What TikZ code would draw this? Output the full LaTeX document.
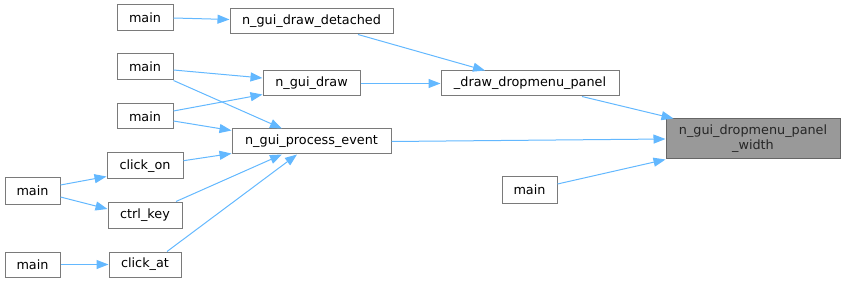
\documentclass[tikz,border=0pt]{standalone}
\usepackage{fontspec}
\setmainfont{DejaVu Sans}
\usetikzlibrary{arrows.meta}
\definecolor{edgeblue}{HTML}{63B8FF}
\definecolor{nodeborder}{HTML}{7A7A7A}
\definecolor{hlfill}{HTML}{999999}
\definecolor{hlborder}{HTML}{666666}
\tikzset{
  fn/.style={draw=nodeborder, fill=white, line width=1pt, inner sep=0pt, font=\fontsize{12.8}{15}\selectfont, text=black},
  hl/.style={draw=hlborder, fill=hlfill, line width=1pt, inner sep=0pt, font=\fontsize{12.8}{15}\selectfont, align=center, text=black!85},
  call/.style={draw=edgeblue, line width=1pt, -{Triangle[length=12pt,width=9pt]}}
}
\begin{document}
\begin{tikzpicture}[x=1pt,y=-1pt]
\useasboundingbox (0,0) rectangle (845,283);
% nodes
\node[fn, minimum width=56pt, minimum height=26pt] (m1) at (145,18) {main};
\node[fn, minimum width=163pt, minimum height=25pt] (detached) at (311.5,21.5) {n\_gui\_draw\_detached};
\node[fn, minimum width=56pt, minimum height=26pt] (m2) at (145,67) {main};
\node[fn, minimum width=97pt, minimum height=25pt] (draw) at (311.5,83.5) {n\_gui\_draw};
\node[fn, minimum width=56pt, minimum height=25pt] (m3) at (145,116.5) {main};
\node[fn, minimum width=159pt, minimum height=25pt] (pev) at (311.5,141.5) {n\_gui\_process\_event};
\node[fn, minimum width=76pt, minimum height=26pt] (clickon) at (145,166) {click\_on};
\node[fn, minimum width=55pt, minimum height=26pt] (m4) at (32.5,191) {main};
\node[fn, minimum width=74pt, minimum height=26pt] (ctrl) at (145,215) {ctrl\_key};
\node[fn, minimum width=55pt, minimum height=25pt] (m5) at (32.5,264.5) {main};
\node[fn, minimum width=72pt, minimum height=25pt] (clickat) at (145,264.5) {click\_at};
\node[fn, minimum width=178pt, minimum height=25pt] (ddp) at (530,83.5) {\_draw\_dropmenu\_panel};
\node[hl, minimum width=174pt, minimum height=40pt] (width) at (753,139) {n\_gui\_dropmenu\_panel\\\_width};
\node[fn, minimum width=55pt, minimum height=26pt] (m6) at (529.5,190) {main};
% edges
\draw[call] (m1.east) -- ([yshift=2pt]detached.west);
\draw[call] ([xshift=46.5pt]detached.south) -- ([xshift=-45pt]ddp.north);
\draw[call] ([yshift=-3pt]m2.east) -- ([yshift=5.5pt]draw.west);
\draw[call] (m2.south east) -- ([xshift=-29.5pt]pev.north);
\draw[call] ([yshift=5.5pt]m3.east) -- ([yshift=2pt]draw.south west);
\draw[call] ([yshift=-4.5pt]m3.east) -- ([yshift=-2pt]pev.north west);
\draw[call] (draw.east) -- (ddp.west);
\draw[call] ([xshift=52pt]ddp.south) -- ([xshift=8pt]width.north west);
\draw[call] (pev.east) -- (width.west);
\draw[call] ([yshift=6pt]m6.east) -- (width.south west);
\draw[call] ([yshift=5.3pt]clickon.east) -- ([yshift=1pt]pev.south west);
\draw[call] ([xshift=31pt]ctrl.north) -- ([xshift=-29.5pt]pev.south);
\draw[call] ([xshift=22pt]clickat.north) -- ([xshift=-14.5pt]pev.south);
\draw[call] ([yshift=6pt]m4.east) -- ([yshift=3pt]clickon.south west);
\draw[call] ([yshift=-6pt]m4.east) -- ([yshift=6pt]ctrl.west);
\draw[call] (m5.east) -- (clickat.west);
\end{tikzpicture}
\end{document}
